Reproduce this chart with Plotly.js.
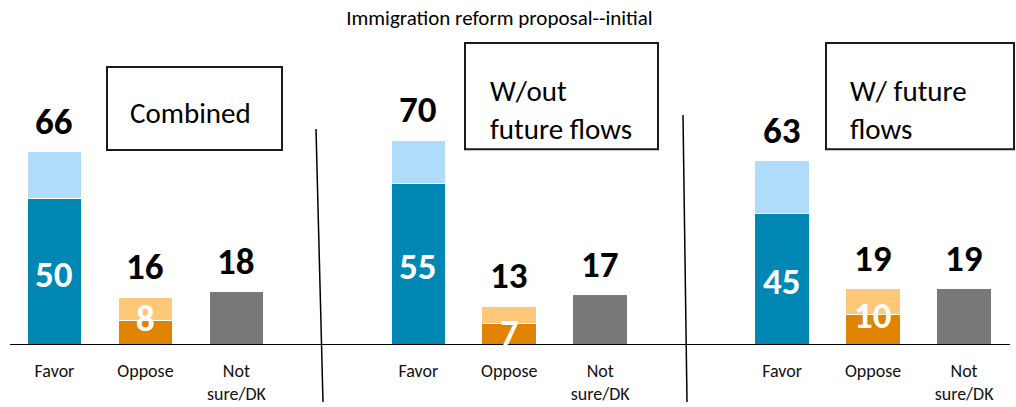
<!DOCTYPE html>
<html>
<head>
<meta charset="utf-8">
<script src="https://cdn.plot.ly/plotly-3.0.1.min.js"></script>
<style>html,body{margin:0;padding:0;background:#fff;}#chart{width:1016px;height:407px;}</style>
</head>
<body>
<div id="chart"></div>
<script>
// ---- data ----
const panels = ['Combined', 'W/out<br>future flows', 'W/ future<br>flows'];
const categories = ['Favor', 'Oppose', 'Not<br>sure/DK'];
const favorStrong = [50, 55, 45];
const favorTotal = [66, 70, 63];
const opposeStrong = [8, 7, 10];
const opposeTotal = [16, 13, 19];
const notSure = [18, 17, 19];
const chartTitle = 'Immigration reform proposal--initial';

// ---- styles ----
const FONT = 'Carlito, Lato, sans-serif';
const C = {darkBlue:'#0087B4', lightBlue:'#AEDCFA', darkOrange:'#E08400', lightOrange:'#FFC878', gray:'#787878'};
const innerShift = [-3, 14, -3, 1, -3, 14];

const xs = [], dark = [], light = [], darkCol = [], lightCol = [], ticktext = [];
panels.forEach((p, i) => {
  const base = i * 4;
  xs.push(base, base + 1, base + 2);
  dark.push(favorStrong[i], opposeStrong[i], notSure[i]);
  light.push(favorTotal[i] - favorStrong[i], opposeTotal[i] - opposeStrong[i], 0);
  darkCol.push(C.darkBlue, C.darkOrange, C.gray);
  lightCol.push(C.lightBlue, C.lightOrange, C.gray);
  ticktext.push(...categories);
});

const traces = [
  {type:'bar', x:xs, y:dark, width:0.6, marker:{color:darkCol, line:{color:'#fff', width:1}}, hoverinfo:'skip'},
  {type:'bar', x:xs, y:light, width:0.6, marker:{color:lightCol, line:{color:'#fff', width:1}}, hoverinfo:'skip'}
];

const annotations = [];
panels.forEach((p, i) => {
  const base = i * 4;
  [favorTotal[i], opposeTotal[i], notSure[i]].forEach((v, j) => {
    annotations.push({x: base + j, y: v, xref:'x', yref:'y', text: String(v), showarrow:false,
      yanchor:'bottom', yshift: 6, font:{family:FONT, size:37, color:'#000', weight:'bold'}});
  });
  [favorStrong[i], opposeStrong[i]].forEach((v, j) => {
    annotations.push({x: base + j, y: v / 2, xref:'x', yref:'y', text: String(v), showarrow:false,
      yanchor:'middle', yshift: innerShift[i * 2 + j], font:{family:FONT, size:37, color:'#fff', weight:'bold'}});
  });
});
const boxPos = [
  {x0:0.097, x1:0.272, y0:0.638, y1:0.911, tx:0.118, ty:0.760},
  {x0:0.455, x1:0.648, y0:0.641, y1:0.990, tx:0.478, ty:0.771},
  {x0:0.816, x1:1.004, y0:0.641, y1:0.990, tx:0.838, ty:0.770}
];
const shapes = [];
panels.forEach((p, i) => {
  const b = boxPos[i];
  shapes.push({type:'rect', xref:'paper', yref:'paper', x0:b.x0, x1:b.x1, y0:b.y0, y1:b.y1,
    line:{color:'#1a1a1a', width:2}, fillcolor:'rgba(0,0,0,0)'});
  annotations.push({xref:'paper', yref:'paper', x:b.tx, y:b.ty, text:p, showarrow:false,
    xanchor:'left', yanchor:'middle', align:'left', font:{family:FONT, size:29, color:'#000'}});
});
shapes.push({type:'line', xref:'paper', yref:'paper', x0:0.306, y0:0.707, x1:0.313, y1:-0.191, line:{color:'#000', width:1.5}});
shapes.push({type:'line', xref:'paper', yref:'paper', x0:0.673, y0:0.753, x1:0.677, y1:-0.191, line:{color:'#000', width:1.5}});

const layout = {
  width:1016, height:407,
  margin:{l:10, r:6, t:40, b:63},
  paper_bgcolor:'#fff', plot_bgcolor:'#fff',
  barmode:'stack', showlegend:false,
  title:{text:chartTitle, xref:'container', x:0.4916, xanchor:'center', yref:'container', y:0.956, yanchor:'middle',
    font:{family:FONT, size:21, color:'#000'}},
  xaxis:{range:[-0.489, 10.505], tickvals:xs, ticktext:ticktext, showgrid:false, zeroline:false,
    showline:true, linecolor:'#000', linewidth:1, ticks:'', ticklabelstandoff:10,
    tickfont:{family:FONT, size:18, color:'#111'}, fixedrange:true},
  yaxis:{range:[0, 104.47], visible:false, fixedrange:true},
  annotations:annotations, shapes:shapes
};
Plotly.newPlot('chart', traces, layout, {displayModeBar:false, staticPlot:true});
</script>
</body>
</html>
